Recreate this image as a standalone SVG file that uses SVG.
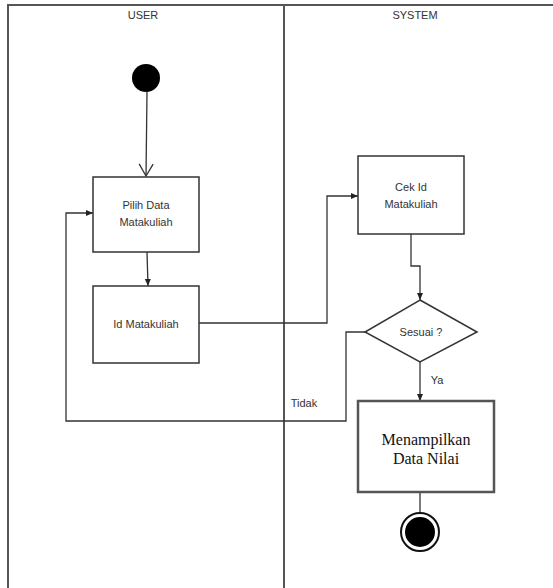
<svg xmlns="http://www.w3.org/2000/svg" width="553" height="588" viewBox="0 0 553 588">
<defs>
<style>
.lane{stroke:#555;stroke-width:2;fill:none}
.box{fill:#fff;stroke:#333;stroke-width:1.5}
.conn{fill:none;stroke:#333;stroke-width:1.3}
.t{font-family:"Liberation Sans",Arial,sans-serif;font-size:11px;fill:#333;text-anchor:middle}
.s{font-family:"Liberation Serif","Times New Roman",serif;font-size:16px;fill:#111;text-anchor:middle}
</style>
<marker id="fa" markerWidth="8" markerHeight="8" refX="7" refY="4" orient="auto" markerUnits="userSpaceOnUse">
<path d="M0,1 L7,4 L0,7 Z" fill="#222"/>
</marker>
<marker id="oa" markerWidth="16" markerHeight="16" refX="13" refY="8" orient="auto" markerUnits="userSpaceOnUse">
<path d="M1,1 L13,8 L1,15" fill="none" stroke="#333" stroke-width="1.3"/>
</marker>
</defs>
<rect width="553" height="588" fill="#fff"/>
<g id="swimlanes">
<path class="lane" d="M8,588 V5 H553"/>
<line class="lane" x1="284" y1="5" x2="284" y2="588"/>
<text class="t" x="143" y="19">USER</text>
<text class="t" x="415" y="19">SYSTEM</text>
</g>
<g id="connectors">
<path class="conn" d="M147,92 L146,176" marker-end="url(#oa)"/>
<path class="conn" d="M147,252 L148,286" marker-end="url(#fa)"/>
<path class="conn" d="M199,323 H327 V196 H358" marker-end="url(#fa)"/>
<path class="conn" d="M411,234 V266 H420 V300" marker-end="url(#fa)"/>
<path class="conn" d="M365,332 H346 V421 H66 V213 H93" marker-end="url(#fa)"/>
<path class="conn" d="M420,362 V401" marker-end="url(#fa)"/>
<path class="conn" d="M420,492 V512"/>
<text class="t" x="304" y="407">Tidak</text>
<text class="t" x="437" y="384">Ya</text>
</g>
<g id="start">
<circle cx="146" cy="78" r="14" fill="#000"/>
</g>
<g id="pilih">
<rect class="box" x="93" y="177" width="106" height="75"/>
<text class="t" x="146" y="209">Pilih Data</text>
<text class="t" x="146" y="226">Matakuliah</text>
</g>
<g id="idmk">
<rect class="box" x="93" y="286" width="106" height="77"/>
<text class="t" x="146" y="328">Id Matakuliah</text>
</g>
<g id="cek">
<rect class="box" x="358" y="156" width="106" height="78"/>
<text class="t" x="411" y="191">Cek Id</text>
<text class="t" x="411" y="208">Matakuliah</text>
</g>
<g id="sesuai">
<polygon class="box" points="420,300 477,332 420,362 365,332"/>
<text class="t" x="421" y="336">Sesuai ?</text>
</g>
<g id="menampilkan">
<rect x="358" y="401" width="136" height="91" fill="#fff" stroke="#555" stroke-width="2.5"/>
<text class="s" x="426" y="445">Menampilkan</text>
<text class="s" x="426" y="464">Data Nilai</text>
</g>
<g id="end">
<circle cx="420" cy="532" r="19" fill="#fff" stroke="#111" stroke-width="2"/>
<circle cx="420" cy="532" r="15" fill="#000"/>
</g>
</svg>
